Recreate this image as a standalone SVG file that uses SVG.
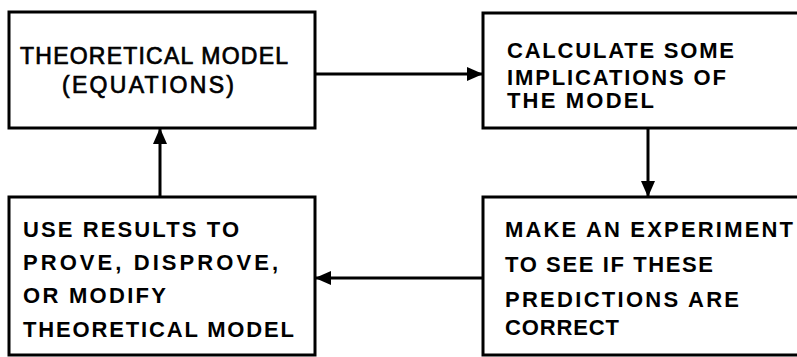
<svg xmlns="http://www.w3.org/2000/svg" width="797" height="357" viewBox="0 0 797 357">
  <style>
    .box { fill: #ffffff; stroke: #000000; stroke-width: 3; }
    .conn { fill: none; stroke: #000000; stroke-width: 3; }
    .t { font-family: "Liberation Sans", Arial, sans-serif; font-size: 22px; font-weight: bold; fill: #000000; }
    .t1 { font-family: "Liberation Sans", Arial, sans-serif; font-size: 23px; font-weight: normal; fill: #000000; stroke: #000000; stroke-width: 0.7; }
  </style>
  <defs>
    <marker id="arrow" markerUnits="userSpaceOnUse" markerWidth="16" markerHeight="14" viewBox="0 0 16 14" refX="16" refY="7" orient="auto">
      <path d="M0,0 L16,7 L0,14 z" fill="#000000"/>
    </marker>
  </defs>
  <rect width="797" height="357" fill="#ffffff"/>

  <g id="node-theoretical-model">
    <rect class="box" x="9" y="12" width="306" height="116"/>
    <text class="t1" x="20" y="64" textLength="268" lengthAdjust="spacing">THEORETICAL MODEL</text>
    <text class="t1" x="62" y="93" textLength="172" lengthAdjust="spacing">(EQUATIONS)</text>
  </g>

  <g id="node-calculate">
    <rect class="box" x="483" y="13" width="330" height="115"/>
    <text class="t" x="507" y="58" textLength="227" lengthAdjust="spacing">CALCULATE SOME</text>
    <text class="t" x="507" y="85" textLength="219" lengthAdjust="spacing">IMPLICATIONS OF</text>
    <text class="t" x="507" y="108" textLength="147" lengthAdjust="spacing">THE MODEL</text>
  </g>

  <g id="node-experiment">
    <rect class="box" x="483" y="197" width="330" height="158"/>
    <text class="t" x="505" y="237" textLength="288" lengthAdjust="spacing">MAKE AN EXPERIMENT</text>
    <text class="t" x="505" y="272" textLength="208" lengthAdjust="spacing">TO SEE IF THESE</text>
    <text class="t" x="505" y="307" textLength="234" lengthAdjust="spacing">PREDICTIONS ARE</text>
    <text class="t" x="505" y="335" textLength="114" lengthAdjust="spacing">CORRECT</text>
  </g>

  <g id="node-use-results">
    <rect class="box" x="9" y="197" width="306" height="158"/>
    <text class="t" x="23" y="237" textLength="216" lengthAdjust="spacing">USE RESULTS TO</text>
    <text class="t" x="23" y="270" textLength="255" lengthAdjust="spacing">PROVE, DISPROVE,</text>
    <text class="t" x="23" y="303" textLength="143" lengthAdjust="spacing">OR MODIFY</text>
    <text class="t" x="23" y="337" textLength="271" lengthAdjust="spacing">THEORETICAL MODEL</text>
  </g>

  <g id="connectors">
    <line class="conn" x1="315" y1="74" x2="483" y2="74" marker-end="url(#arrow)"/>
    <line class="conn" x1="648" y1="128" x2="648" y2="197" marker-end="url(#arrow)"/>
    <line class="conn" x1="483" y1="278" x2="315" y2="278" marker-end="url(#arrow)"/>
    <line class="conn" x1="160" y1="197" x2="160" y2="128" marker-end="url(#arrow)"/>
  </g>
</svg>
